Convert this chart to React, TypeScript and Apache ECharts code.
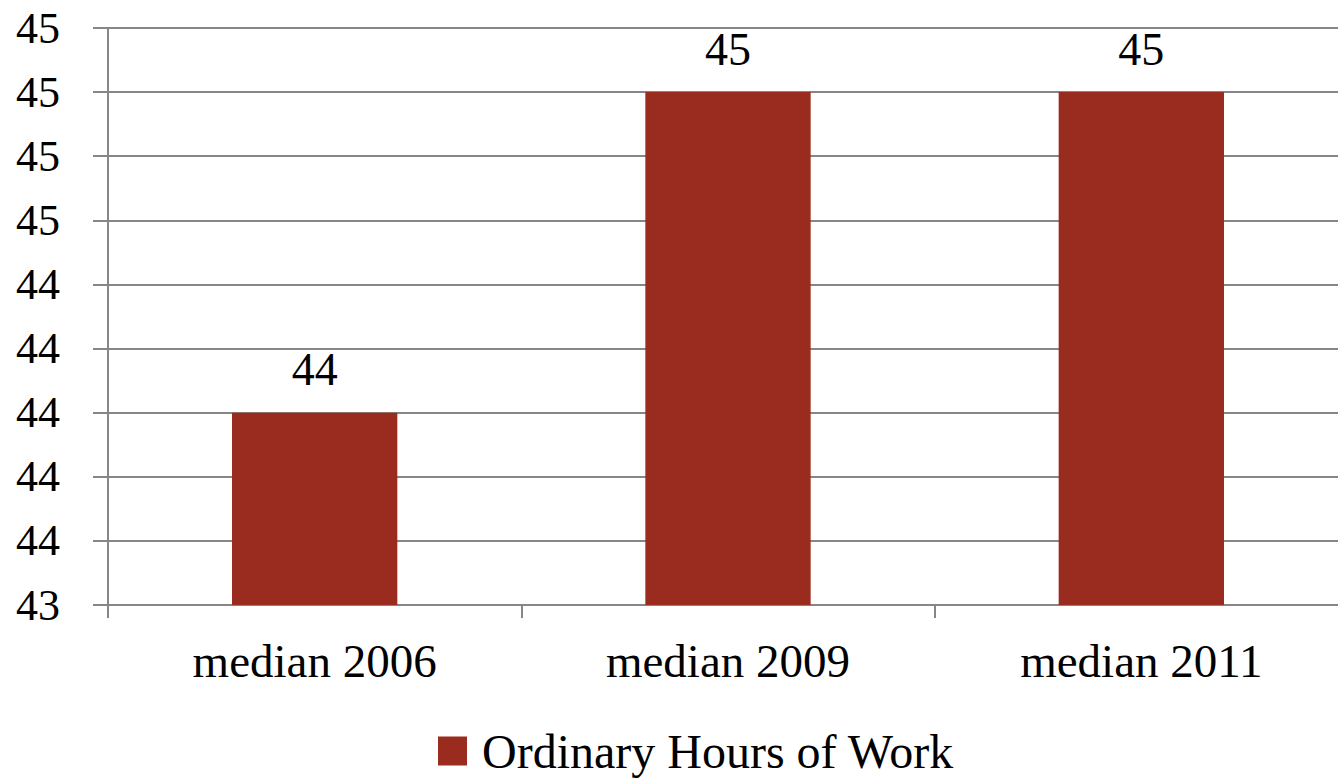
import React, { useEffect, useRef } from "react";
import * as echarts from "echarts";

const categories = ["median 2006", "median 2009", "median 2011"];
const seriesName = "Ordinary Hours of Work";
const hoursValues = [44.0, 45.0, 45.0];
const valueLabels = ["44", "45", "45"];
const yMin = 43.4;
const yMax = 45.2;
const yInterval = 0.2;

const FONT = "Liberation Serif";
const BAR_COLOR = "#9A2C1F";
const GRID_COLOR = "#868686";

export default function App() {
  const ref = useRef<HTMLDivElement>(null);
  useEffect(() => {
    document.body.style.margin = "0";
    if (!ref.current) return;
    const chart = echarts.init(ref.current, undefined, { renderer: "svg" });
    chart.setOption({
      animation: false,
      backgroundColor: "#ffffff",
      textStyle: { fontFamily: FONT },
      grid: { left: 108, right: 0, top: 28, bottom: 175, containLabel: false },
      legend: {
        show: true,
        bottom: 0,
        left: 433,
        icon: "rect",
        itemWidth: 29,
        itemHeight: 29,
        textStyle: { fontFamily: FONT, fontSize: 48, color: "#000", padding: [0, 0, 0, 10] },
        data: [seriesName],
      },
      xAxis: {
        type: "category",
        data: categories,
        axisLine: { show: true, lineStyle: { color: GRID_COLOR, width: 2 } },
        axisTick: { show: true, length: 13, alignWithLabel: false, lineStyle: { color: GRID_COLOR, width: 2 } },
        axisLabel: { fontFamily: FONT, fontSize: 47, color: "#000", margin: 32 },
      },
      yAxis: {
        type: "value",
        min: yMin,
        max: yMax,
        interval: yInterval,
        axisLine: { show: true, lineStyle: { color: GRID_COLOR, width: 2 } },
        axisTick: { show: true, length: 15, lineStyle: { color: GRID_COLOR, width: 2 } },
        splitLine: { show: true, lineStyle: { color: GRID_COLOR, width: 2 } },
        axisLabel: {
          fontFamily: FONT,
          fontSize: 44,
          color: "#000",
          margin: 48,
          formatter: (v: number) => String(Math.round(v)),
        },
      },
      series: [
        {
          name: seriesName,
          type: "bar",
          data: hoursValues,
          barWidth: "40%",
          itemStyle: { color: BAR_COLOR },
          label: {
            show: true,
            position: "top",
            distance: 20,
            fontFamily: FONT,
            fontSize: 46,
            color: "#000",
            formatter: (p: any) => valueLabels[p.dataIndex],
          },
        },
      ],
    });
    return () => chart.dispose();
  }, []);
  return (
    <div
      style={{
        position: "fixed",
        left: 0,
        top: 0,
        width: 1338,
        height: 780,
        overflow: "hidden",
        background: "#fff",
      }}
    >
      <div ref={ref} style={{ width: 1348, height: 780 }} />
    </div>
  );
}
